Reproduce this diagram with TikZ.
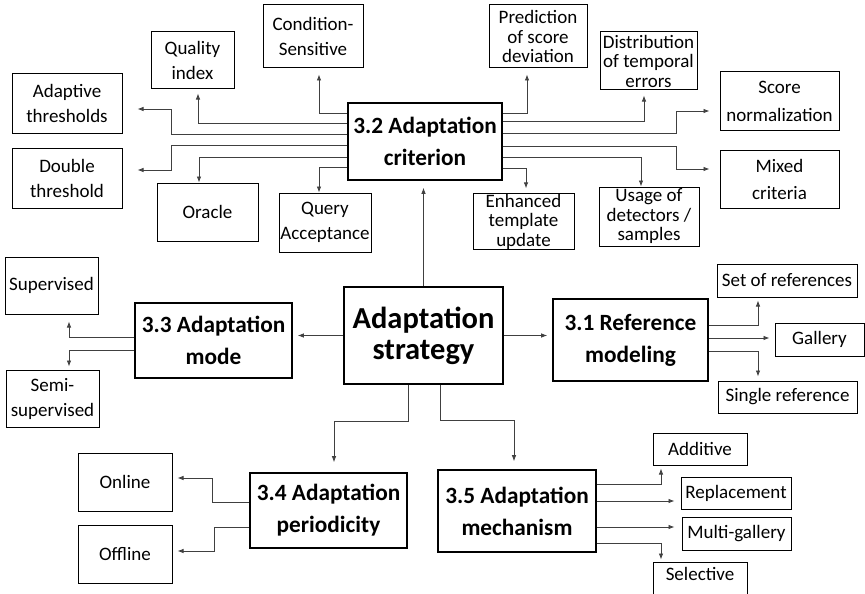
\documentclass[tikz,border=0pt]{standalone}
\usepackage{fontspec}
\setmainfont{Carlito}
\usetikzlibrary{arrows.meta}

\begin{document}
\begin{tikzpicture}[x=1pt, y=-1pt,
    every node/.style={rectangle, draw, align=center, inner sep=0pt},
    leaf/.style={line width=1pt, font=\fontsize{19}{25}\selectfont},
    leaftight/.style={leaf, font=\fontsize{19}{19.5}\selectfont},
    topic/.style={line width=1.6pt, font=\bfseries\fontsize{23.3}{32}\selectfont},
    root/.style={line width=2.6pt, font=\bfseries\fontsize{30.5}{31}\selectfont},
    link/.style={draw=black!75, line width=0.8pt, -{Latex[length=6pt,width=4.5pt]}, shorten >=5pt}]
\useasboundingbox (0,0) rectangle (865,594);

% centre and sections
\node[root, minimum width=159, minimum height=97] (strat) at (423.5,335.5) {Adaptation\\strategy};
\node[topic, minimum width=154, minimum height=77] (crit) at (425,141.5) {3.2 Adaptation\\criterion};
\node[topic, minimum width=157, minimum height=75] (mode) at (213.5,340.5) {3.3 Adaptation\\mode};
\node[topic, minimum width=155, minimum height=82] (ref) at (630.5,340) {3.1 Reference\\modeling};
\node[topic, minimum width=157, minimum height=75] (period) at (328.5,510.5) {3.4 Adaptation\\periodicity};
\node[topic, minimum width=158, minimum height=82] (mech) at (517,511) {3.5 Adaptation\\mechanism};

% criterion leaves
\node[leaf, minimum width=83, minimum height=57] (qual) at (192.5,60.5) {Quality\\index};
\node[leaf, minimum width=100, minimum height=63] (cond) at (313,36.5) {Condition-\\Sensitive};
\node[leaf, minimum width=110, minimum height=59] (adapt) at (67,103.5) {Adaptive\\thresholds};
\node[leaf, minimum width=110, minimum height=60] (double) at (67,178) {Double\\threshold};
\node[leaf, minimum width=101, minimum height=58] (oracle) at (207.5,212) {Oracle};
\node[leaf, minimum width=92, minimum height=59] (query) at (325,222.5) {Query\\Acceptance};
\node[leaftight, minimum width=98, minimum height=63] (pred) at (538,36.5) {Prediction\\of score\\deviation};
\node[leaftight, minimum width=97, minimum height=58] (distr) at (648.5,61) {Distribution\\of temporal\\errors};
\node[leaf, font=\fontsize{19}{28}\selectfont, minimum width=119, minimum height=58] (score) at (779.5,101) {Score\\normalization};
\node[leaf, font=\fontsize{19}{27}\selectfont, minimum width=119, minimum height=58] (mixed) at (779.5,179) {Mixed\\criteria};
\node[leaftight, minimum width=101, minimum height=55] (enh) at (523.5,221.5) {Enhanced\\template\\update};
\node[leaftight, minimum width=100, minimum height=59] (usage) at (649,216.5) {Usage of\\detectors /\\samples};

% mode leaves
\node[leaf, minimum width=93, minimum height=57] (super) at (51.5,285.5) {Supervised};
\node[leaf, minimum width=93, minimum height=57] (semi) at (52.5,398.5) {Semi-\\supervised};

% periodicity leaves
\node[leaf, minimum width=94, minimum height=58] (online) at (125,482) {Online};
\node[leaf, minimum width=94, minimum height=58] (offline) at (125,554) {Offline};

% reference leaves
\node[leaf, minimum width=140, minimum height=33] (setref) at (787,280.5) {Set of references};
\node[leaf, minimum width=89, minimum height=33] (gallery) at (819.5,339.5) {Gallery};
\node[leaf, minimum width=139, minimum height=32] (single) at (787.5,397) {Single reference};

% mechanism leaves
\node[leaf, minimum width=94, minimum height=32] (additive) at (700,449) {Additive};
\node[leaf, minimum width=110, minimum height=32] (repl) at (736,493) {Replacement};
\node[leaf, minimum width=109, minimum height=33] (multi) at (736.5,533.5) {Multi-gallery};
\node[leaf, minimum width=94, minimum height=38, text depth=14pt] (selective) at (700,581) {Selective};

% strategy to sections
\draw[link, shorten >=7pt] (strat.north) -- (strat.north |- crit.south);
\draw[link] (strat.west) -- (strat.west -| mode.east);
\draw[link] (strat.east) -- (strat.east -| ref.west);
\draw[link, shorten >=10pt] ([xshift=-15.5pt]strat.south) -- ++(0,36) -| ([xshift=5.5pt]period.north);
\draw[link, shorten >=8pt] ([xshift=16.5pt]strat.south) -- ++(0,35) -| ([xshift=-3pt]mech.north);

% criterion, left side
\draw[link, shorten >=6pt] ([yshift=28.5pt]crit.west) -| ([xshift=6pt]cond.south);
\draw[link, shorten >=4pt] ([yshift=18.5pt]crit.west) -| ([xshift=5.5pt]qual.south);
\draw[link, shorten >=15pt] ([yshift=7.5pt]crit.west) -- ++(-176,0) |- ([yshift=-5.5pt]adapt.east);
\draw[link, shorten >=15pt] ([yshift=-3.5pt]crit.west) -- ++(-176,0) |- ([yshift=8pt]double.east);
\draw[link, shorten >=0pt] ([yshift=-15.5pt]crit.west) -| ([xshift=-8.5pt]oracle.north);
\draw[link, shorten >=0pt] ([yshift=-25.5pt]crit.west) -| ([xshift=-6pt]query.north);

% criterion, right side
\draw[link, shorten >=6pt] ([yshift=28.5pt]crit.east) -| ([xshift=-11pt]pred.south);
\draw[link, shorten >=5pt] ([yshift=20.5pt]crit.east) -| ([xshift=-4.5pt]distr.south);
\draw[link, shorten >=10pt] ([yshift=8.5pt]crit.east) -- ++(174,0) |- ([yshift=-10pt]score.west);
\draw[link, shorten >=10pt] ([yshift=-4.5pt]crit.east) -- ++(174,0) |- ([yshift=10pt]mixed.west);
\draw[link, shorten >=0pt] ([yshift=-15.5pt]crit.east) -| ([xshift=-8pt]usage.north);
\draw[link, shorten >=5pt] ([yshift=-26.5pt]crit.east) -| ([xshift=2.5pt]enh.north);

% mode
\draw[link, shorten >=7pt] ([yshift=3.5pt]mode.west) -| ([xshift=17.5pt]super.south);
\draw[link, shorten >=3pt] ([yshift=-9.5pt]mode.west) -| ([xshift=16.5pt]semi.north);

% periodicity
\draw[link] ([yshift=8.5pt]period.west) -- ++(-37,0) |- ([yshift=4pt]online.east);
\draw[link] ([yshift=-16.5pt]period.west) -- ++(-35,0) |- ([yshift=3pt]offline.east);

% reference modeling
\draw[link, shorten >=3pt] ([yshift=15pt]ref.east) -| ([xshift=-29pt]setref.south);
\coordinate (r2) at ([yshift=2pt]ref.east);
\draw[link] (r2) -- (r2 -| gallery.west);
\draw[link, shorten >=4pt] ([yshift=-11pt]ref.east) -| ([xshift=-29.5pt]single.north);

% mechanism
\draw[link, shorten >=3pt] ([yshift=27pt]mech.east) -| ([xshift=-39pt]additive.south);
\coordinate (m2) at ([yshift=10pt]mech.east);
\draw[link, shorten >=6pt] (m2) -- (m2 -| repl.west);
\coordinate (m3) at ([yshift=-16pt]mech.east);
\draw[link, shorten >=7pt] (m3) -- (m3 -| multi.west);
\draw[link, shorten >=2pt] ([yshift=-32pt]mech.east) -| ([xshift=-39pt]selective.north);
\end{tikzpicture}
\end{document}
